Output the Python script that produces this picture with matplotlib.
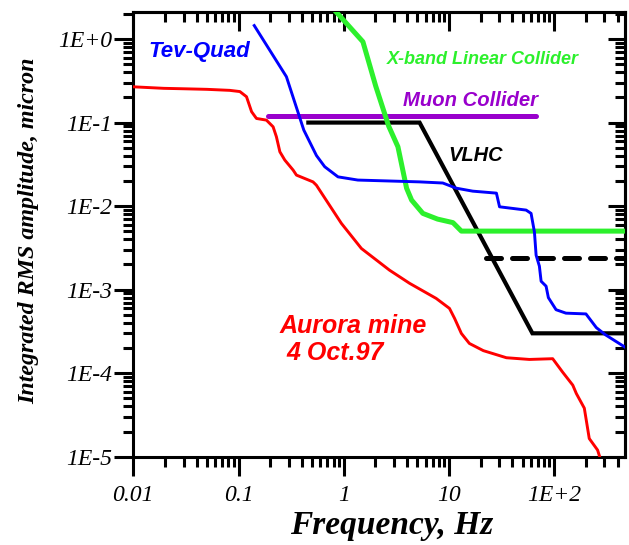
import matplotlib
matplotlib.use("Agg")
import matplotlib.pyplot as plt
from matplotlib.ticker import NullFormatter, LogLocator

# ---- data ----
red_f = [0.01, 0.0195, 0.0296, 0.050, 0.0826, 0.103, 0.119, 0.133, 0.148, 0.184, 0.213, 0.229, 0.247,
         0.275, 0.330, 0.355, 0.510, 0.549, 0.949, 1.47, 2.72, 4.22, 7.55, 10.1, 11.3, 13.1, 15.6, 21.2,
         35.1, 58.0, 96.6, 120, 150, 162, 193, 215, 258, 270]
red_a = [0.268, 0.257, 0.254, 0.250, 0.243, 0.235, 0.204, 0.135, 0.112, 0.107, 0.089, 0.0676, 0.0447,
         0.0356, 0.0270, 0.0235, 0.0195, 0.0178, 0.00621, 0.00311, 0.00171, 0.00119, 7.85e-4, 5.96e-4,
         4.52e-4, 2.99e-4, 2.27e-4, 1.86e-4, 1.53e-4, 1.46e-4, 1.49e-4, 1.03e-4, 7.18e-5, 5.71e-5,
         3.81e-5, 1.65e-5, 1.20e-5, 1.0e-5]

blue_f = [0.141, 0.285, 0.417, 0.550, 0.659, 0.881, 1.36, 5.25, 8.73, 11.7, 16.8, 28.2, 30.2, 54.0,
          60.2, 64.8, 67.2, 72.2, 75.0, 83.6, 87.9, 104, 129, 200, 251, 305, 470]
blue_a = [1.45, 0.354, 0.0813, 0.0403, 0.0296, 0.0224, 0.0205, 0.0195, 0.0189, 0.0164, 0.0151, 0.0143,
          0.00981, 0.00896, 0.00818, 0.00489, 0.00259, 0.00191, 0.00126, 0.00110, 8.02e-4, 5.75e-4,
          5.23e-4, 5.12e-4, 3.51e-4, 2.89e-4, 2.05e-4]

green_f = [0.74, 1.52, 2.01, 2.67, 3.27, 3.95, 4.41, 5.64, 7.78, 10.9, 13.1, 470]
green_a = [2.55, 0.928, 0.274, 0.0908, 0.0513, 0.0164, 0.0118, 0.00818, 0.00699, 0.00634, 0.00502, 0.00502]

vlhc_f = [0.44, 5.25, 62, 470]
vlhc_a = [0.1, 0.1, 3.0e-4, 3.0e-4]

vlhc_dash_f = [22.5, 470]
vlhc_dash_a = [2.4e-3, 2.4e-3]

muon_f = [0.19, 67]
muon_a = [0.12, 0.12]

x_ticks = [0.01, 0.1, 1, 10, 100]
x_labels = ["0.01", "0.1", "1", "10", "1E+2"]
y_ticks = [1e-5, 1e-4, 1e-3, 1e-2, 1e-1, 1]
y_labels = ["1E-5", "1E-4", "1E-3", "1E-2", "1E-1", "1E+0"]

W, H = 629, 545
fig = plt.figure(figsize=(W / 100, H / 100), dpi=100)
L, R, T, B = 133.3, 625.0, 12.3, 456.7
ax = fig.add_axes([L / W, 1 - B / H, (R - L) / W, (B - T) / H])
ax.set_xscale("log")
ax.set_yscale("log")
ax.set_xlim(0.01, 470)
ax.set_ylim(1e-5, 2.09)

RED = "#ff0000"
BLUE = "#0000ff"
GREEN = "#2cf02c"
PURPLE = "#9900cc"

ax.plot(vlhc_f, vlhc_a, color="black", lw=3.0, solid_capstyle="butt", solid_joinstyle="miter", zorder=2)
ax.plot(vlhc_dash_f, vlhc_dash_a, color="black", lw=3.6, dashes=(3.0, 2.2), dash_capstyle="round", zorder=2)
ax.plot(muon_f, muon_a, color=PURPLE, lw=3.6, solid_capstyle="round", zorder=3)
ax.plot(green_f, green_a, color=GREEN, lw=3.6, solid_joinstyle="round", zorder=4)
ax.plot(red_f, red_a, color=RED, lw=2.1, zorder=5)
ax.plot(blue_f, blue_a, color=BLUE, lw=2.1, zorder=6)

# ticks and labels
tick_font = dict(family="Liberation Serif", style="italic", size=17)
ax.set_xticks(x_ticks)
ax.set_xticklabels(x_labels, fontdict=tick_font)
ax.set_yticks(y_ticks)
ax.set_yticklabels(y_labels, fontdict=tick_font)
ax.xaxis.set_minor_locator(LogLocator(base=10, subs=range(2, 10), numticks=20))
ax.yaxis.set_minor_locator(LogLocator(base=10, subs=range(2, 10), numticks=20))
ax.xaxis.set_minor_formatter(NullFormatter())
ax.yaxis.set_minor_formatter(NullFormatter())
ax.tick_params(axis="both", which="major", direction="out", length=13.5, width=2.2, top=False, right=False)
ax.tick_params(axis="both", which="minor", direction="out", length=7.5, width=2.2, top=False, right=False)
ax.tick_params(axis="x", which="major", pad=7)
ax.tick_params(axis="y", which="major", pad=1.5)
for s in ax.spines.values():
    s.set_linewidth(2.2)

secx = ax.secondary_xaxis("top")
secx.set_xticks(x_ticks)
secx.xaxis.set_minor_locator(LogLocator(base=10, subs=range(2, 10), numticks=20))
secx.xaxis.set_major_formatter(NullFormatter())
secx.xaxis.set_minor_formatter(NullFormatter())
secx.tick_params(which="major", direction="in", length=13.5, width=2.2)
secx.tick_params(which="minor", direction="in", length=7.5, width=2.2)
secx.spines["top"].set_linewidth(2.2)

secy = ax.secondary_yaxis("right")
secy.set_yticks(y_ticks)
secy.yaxis.set_minor_locator(LogLocator(base=10, subs=range(2, 10), numticks=20))
secy.yaxis.set_major_formatter(NullFormatter())
secy.yaxis.set_minor_formatter(NullFormatter())
secy.tick_params(which="major", direction="in", length=12.5, width=2.2)
secy.tick_params(which="minor", direction="in", length=7.5, width=2.2)
secy.spines["right"].set_linewidth(2.2)

# axis labels
lab_font = dict(family="Liberation Serif", style="italic", weight="bold")
fig.text(391.5 / W, 1 - 534 / H, "Frequency, Hz", ha="center", va="baseline", size=24, **lab_font)
fig.text(34 / W, 1 - 231 / H, "Integrated RMS amplitude, micron", ha="center", va="baseline",
         rotation=90, rotation_mode="anchor", size=17.3, **lab_font)

# annotations
ann = dict(family="Liberation Sans", style="italic", weight="bold", ha="left", va="baseline")
fig.text(148 / W, 1 - 56.7 / H, "Tev-Quad", color=BLUE, size=16, **ann)
fig.text(386.7 / W, 1 - 64 / H, "X-band Linear Collider", color=GREEN, size=13, **ann)
fig.text(402.7 / W, 1 - 106 / H, "Muon Collider", color=PURPLE, size=14.6, **ann)
fig.text(448.3 / W, 1 - 160.7 / H, "VLHC", color="black", size=14.4, **ann)
fig.text(280 / W, 1 - 333.3 / H, "Aurora mine", color=RED, size=18, **ann)
fig.text(286.7 / W, 1 - 360 / H, "4 Oct.97", color=RED, size=18, **ann)

fig.savefig("out.png", dpi=100)
